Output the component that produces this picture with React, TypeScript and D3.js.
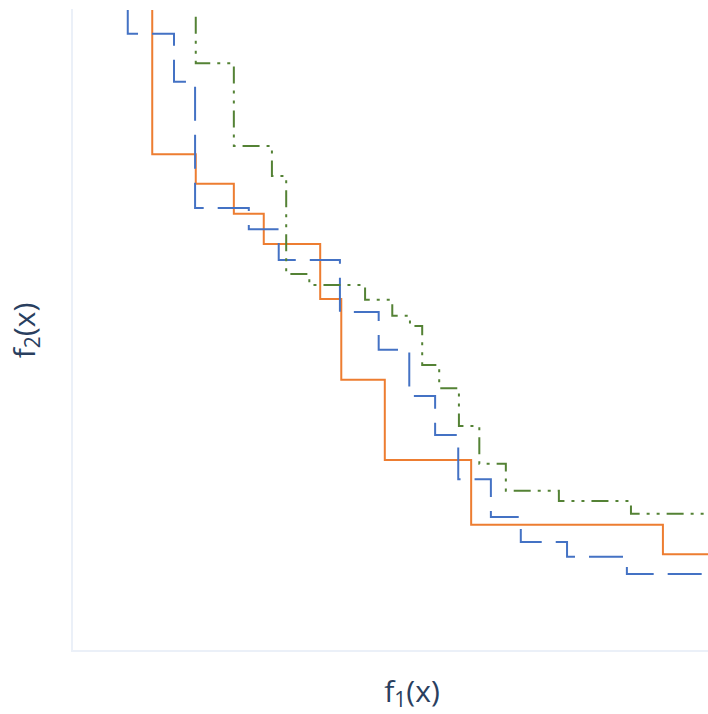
import React from "react";
import * as d3 from "d3";

// Pareto front corners (f1, f2 in 0..1 units)
const solidF1 = [0.118, 0.182, 0.238, 0.282, 0.365, 0.396, 0.46, 0.587, 0.869];
const solidF2 = [0.775, 0.729, 0.682, 0.635, 0.549, 0.423, 0.298, 0.197, 0.151];

const dashF1 = [0.082, 0.15, 0.181, 0.26, 0.304, 0.394, 0.451, 0.496, 0.534, 0.568, 0.616, 0.66, 0.728, 0.816];
const dashF2 = [0.963, 0.888, 0.691, 0.658, 0.61, 0.529, 0.47, 0.398, 0.337, 0.268, 0.209, 0.17, 0.147, 0.12];

const dotF1 = [0.182, 0.238, 0.294, 0.315, 0.349, 0.431, 0.471, 0.497, 0.515, 0.54, 0.569, 0.599, 0.638, 0.716, 0.822];
const dotF2 = [0.917, 0.788, 0.741, 0.588, 0.571, 0.548, 0.523, 0.507, 0.446, 0.41, 0.351, 0.292, 0.25, 0.234, 0.214];

const xTitle = "f";

const W = 708;
const H = 714;
const margin = { left: 72, right: -44, top: 10, bottom: 63 };

const series = [
  { f1: solidF1, f2: solidF2, color: "#ED7D31", dash: "", offset: 0 },
  { f1: dashF1, f2: dashF2, color: "#4472C4", dash: "34,14", offset: 0 },
  { f1: dotF1, f2: dotF2, color: "#548235", dash: "17,7,3,7,3,7", offset: 37.3 },
];

const AxisTitle = ({ sub, size }: { sub: string; size: number }) => (
  <>
    <tspan>{xTitle}</tspan>
    <tspan fontSize={size * 0.7} dy={size * 0.18}>{sub}</tspan>
    <tspan dy={-size * 0.18}>(x)</tspan>
  </>
);

export default function App() {
  const x = d3.scaleLinear().domain([0, 1]).range([margin.left, W - margin.right]);
  const y = d3.scaleLinear().domain([0, 1]).range([H - margin.bottom, margin.top]);

  const line = d3
    .line<[number, number]>()
    .x((d) => x(d[0]))
    .y((d) => y(d[1]))
    .curve(d3.curveStepAfter);

  const fontSize = 30;

  return (
    <svg
      width={W}
      height={H}
      style={{ position: "absolute", left: 0, top: 0, background: "#fff" }}
      fontFamily="'Open Sans', sans-serif"
    >
      {/* axis lines */}
      <line x1={x(0)} x2={x(0)} y1={y(1) - 1} y2={y(0) + 1} stroke="#EBF0F8" strokeWidth={2} />
      <line x1={x(0) - 1} x2={x(1)} y1={y(0)} y2={y(0)} stroke="#EBF0F8" strokeWidth={2} />

      {series.map((s, i) => {
        const pts: [number, number][] = [[s.f1[0], 1]];
        s.f1.forEach((v, j) => pts.push([v, s.f2[j]]));
        pts.push([1, s.f2[s.f2.length - 1]]);
        return (
          <path
            key={i}
            d={line(pts) || ""}
            fill="none"
            stroke={s.color}
            strokeWidth={2}
            strokeDasharray={s.dash || undefined}
            strokeDashoffset={s.offset}
          />
        );
      })}

      <text x={x(0.5)} y={702} textAnchor="middle" fill="#2a3f5f" fontSize={fontSize}>
        <AxisTitle sub="1" size={fontSize} />
      </text>
      <text
        transform={`translate(35,${(y(0) + y(1)) / 2}) rotate(-90)`}
        textAnchor="middle"
        fill="#2a3f5f"
        fontSize={fontSize}
      >
        <AxisTitle sub="2" size={fontSize} />
      </text>
    </svg>
  );
}
